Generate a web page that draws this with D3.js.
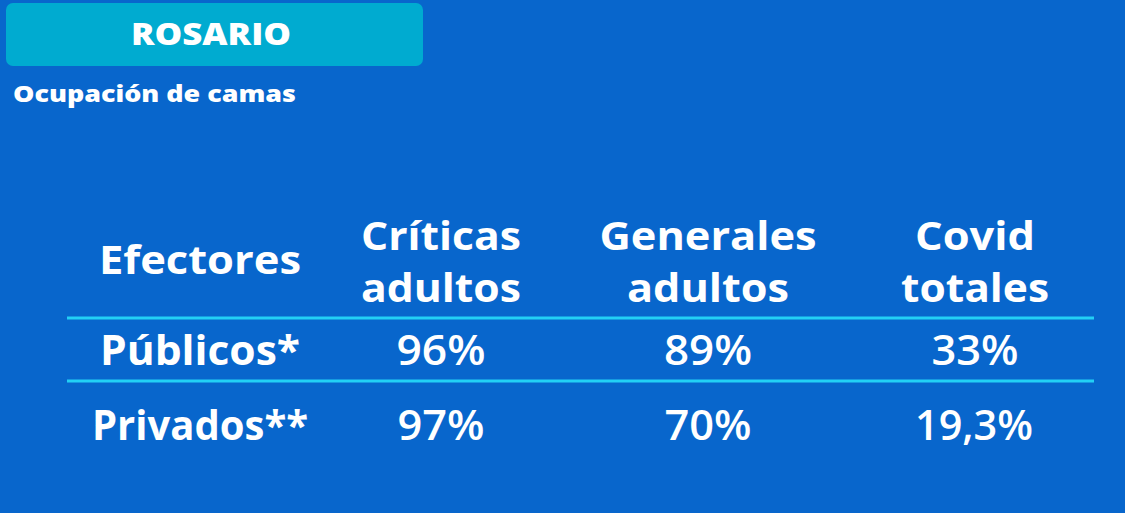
<!DOCTYPE html>
<html><head><meta charset="utf-8">
<script src="https://cdn.jsdelivr.net/npm/d3@7"></script>
<style>html,body{margin:0;padding:0;background:#0866cc;}svg{display:block;}</style>
</head><body>
<script>
const title = "ROSARIO";
const subtitle = "Ocupación de camas";
const headerFirst = "Efectores";
const columns = [["Críticas","adultos"],["Generales","adultos"],["Covid","totales"]];
const rowLabels = ["Públicos*","Privados**"];
const publicos = ["96%","89%","33%"];
const privados = ["97%","70%","19,3%"];

const W=1125,H=513;
const svg=d3.select("body").append("svg").attr("width",W).attr("height",H);
svg.append("rect").attr("width",W).attr("height",H).attr("fill","#0866cc");
svg.append("rect").attr("x",6).attr("y",3).attr("width",417).attr("height",63).attr("rx",7).attr("fill","#00abd0");
const ff="Open Sans";
function txt(x,y,t,size,weight,anchor,target){
  const el=svg.append("text").attr("x",x).attr("y",y).attr("text-anchor",anchor||"middle").attr("fill","#fff")
    .attr("font-family",ff).attr("font-weight",weight).attr("font-size",size).text(t);
  if(target){ el.attr("textLength",target).attr("lengthAdjust","spacingAndGlyphs"); }
  return el;
}
txt(211,45,title,30,800,"middle",160);
txt(13,102,subtitle,22,800,"start",283);

const xs=[200,441,708,975];
txt(xs[0],274,headerFirst,40,700,"middle",202);
const hw=[[160,160],[217,162],[120,148]];
columns.forEach((c,i)=>c.forEach((t,j)=>txt(xs[i+1],250+j*52,t,40,700,"middle",hw[i][j])));
[318,381].forEach(y=>svg.append("line").attr("x1",67).attr("x2",1094).attr("y1",y).attr("y2",y)
  .attr("stroke","#22d0f5").attr("stroke-width",3));
const rows=[publicos,privados];
const ry=[365,440];
const lw=[200,216];
const vw=[[89,88,87],[87,87,118]];
rows.forEach((r,i)=>{
  txt(xs[0],ry[i],rowLabels[i],41,700,"middle",lw[i]);
  r.forEach((v,j)=>txt(xs[j+1]+(v.length>4?-1:0),ry[i],v,42,600,"middle",vw[i][j]));
});
</script></body></html>
